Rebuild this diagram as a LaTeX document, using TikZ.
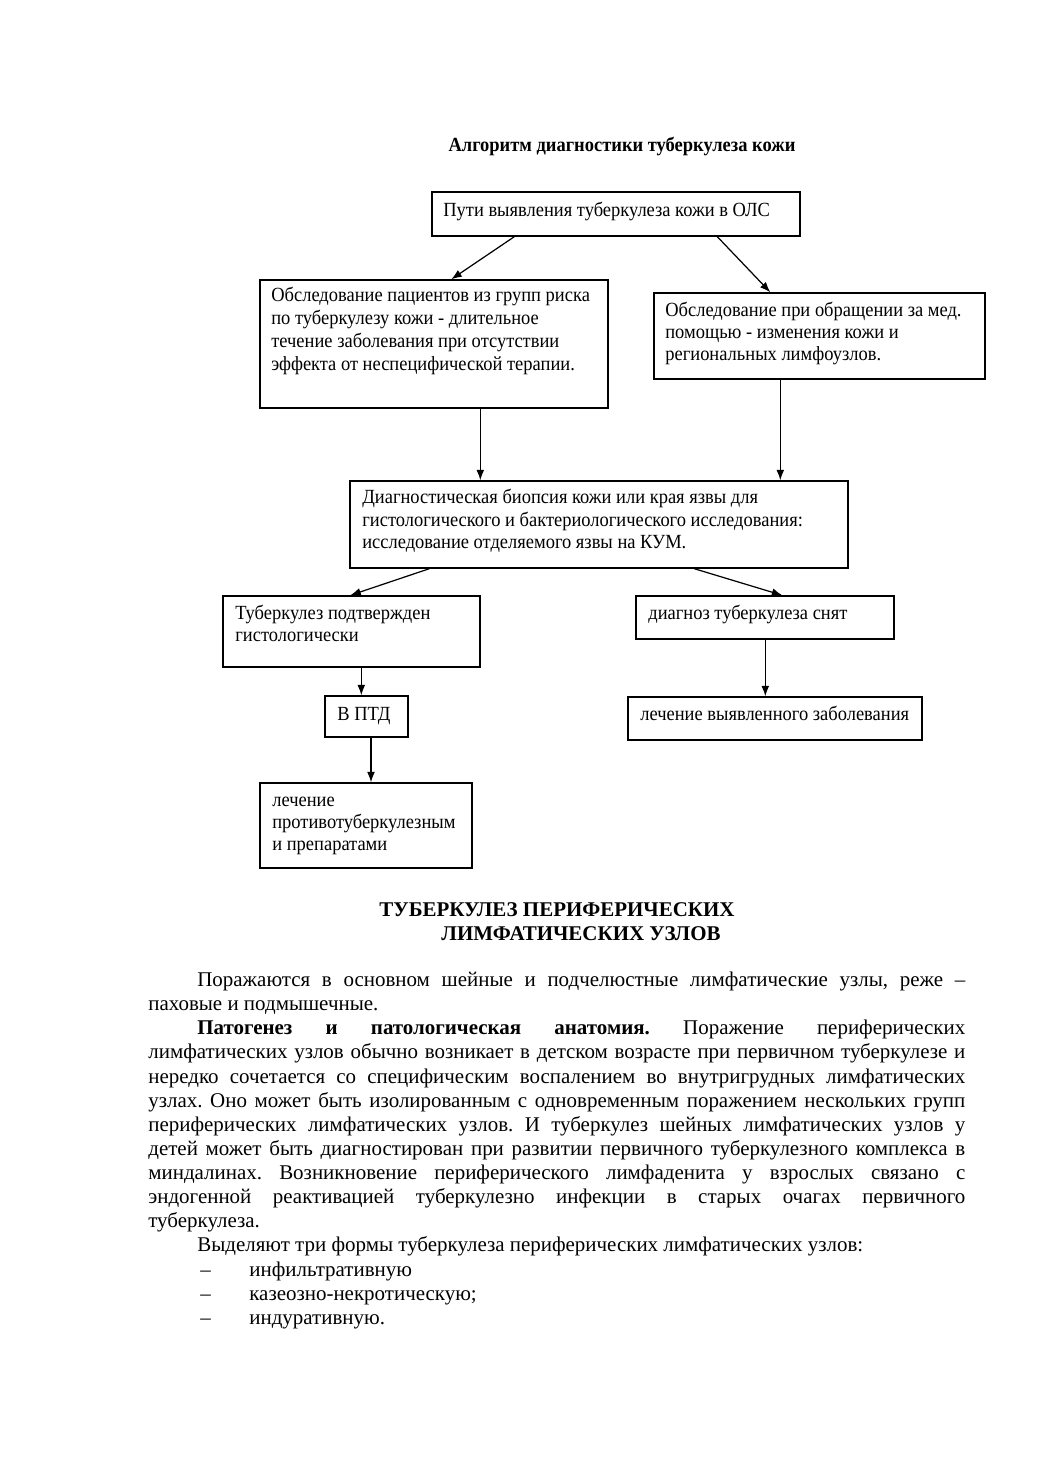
\documentclass[tikz,border=0pt]{standalone}
\usepackage{fontspec}
\setmainfont{Liberation Serif}
\newfontfamily\diagfont[FakeStretch=0.92]{Liberation Serif}
\usetikzlibrary{arrows.meta,calc}
\newlength\pxu
\setlength\pxu{0.5727pt}
\frenchspacing
\tikzset{
  box/.style={draw, line width=0.8pt, inner sep=0pt, minimum width=#1},
  dtxt/.style={anchor=base west, inner sep=0pt, font=\diagfont\fontsize{11.5}{13}\selectfont},
  btxt/.style={anchor=base west, inner sep=0pt, font=\fontsize{12}{13.8}\selectfont},
  arr/.style={line width=0.7pt, -{Latex[length=6pt,width=4.5pt]}},
}
\newcommand\jline[1]{\makebox[817\pxu][s]{#1}}
\newcommand\jlinei[1]{\makebox[768\pxu][s]{#1}}
\begin{document}
\begin{tikzpicture}[x=\pxu, y=-\pxu]
\useasboundingbox (0,0) rectangle (1039,1471);
% title
\node[anchor=base, inner sep=0pt, font=\diagfont\bfseries\fontsize{11.5}{13}\selectfont] (title) at (622,152) {Алгоритм диагностики туберкулеза кожи};
% boxes
\node[box=368\pxu, minimum height=44\pxu] (b1) at (616,214) {};
\node[box=348\pxu, minimum height=128\pxu] (b2) at (434,344) {};
\node[box=331\pxu, minimum height=86\pxu] (b3) at (819.5,336) {};
\node[box=498\pxu, minimum height=87\pxu] (b4) at (599,524.5) {};
\node[box=257\pxu, minimum height=71\pxu] (b5) at (351.5,631.5) {};
\node[box=258\pxu, minimum height=43\pxu] (b6) at (765,617.5) {};
\node[box=83\pxu, minimum height=41\pxu] (b7) at (366.5,716.5) {};
\node[box=212\pxu, minimum height=85\pxu] (b8) at (366,825.5) {};
\node[box=294\pxu, minimum height=43\pxu] (b9) at (775,718.5) {};
% box texts
\node[dtxt] (t1) at (443,217) {Пути выявления туберкулеза кожи в ОЛС};
\node[dtxt] (t2a) at (271,302) {Обследование пациентов из групп риска};
\node[dtxt] (t2b) at (271,325) {по туберкулезу кожи - длительное};
\node[dtxt] (t2c) at (271,348) {течение заболевания при отсутствии};
\node[dtxt] (t2d) at (271,371) {эффекта от неспецифической терапии.};
\node[dtxt] (t3a) at (665,317) {Обследование при обращении за мед.};
\node[dtxt] (t3b) at (665,339) {помощью - изменения кожи и};
\node[dtxt] (t3c) at (665,361) {региональных лимфоузлов.};
\node[dtxt] (t4a) at (362,503) {Диагностическая биопсия кожи или края язвы для};
\node[dtxt] (t4b) at (362,526) {гистологического и бактериологического исследования:};
\node[dtxt] (t4c) at (362,548) {исследование отделяемого язвы на КУМ.};
\node[dtxt] (t5a) at (235,619) {Туберкулез подтвержден};
\node[dtxt] (t5b) at (235,641) {гистологически};
\node[dtxt] (t6) at (648,619) {диагноз туберкулеза снят};
\node[dtxt] (t7) at (337,720) {В ПТД};
\node[dtxt] (t8a) at (272,806) {лечение};
\node[dtxt] (t8b) at (272,828) {противотуберкулезным};
\node[dtxt] (t8c) at (272,850) {и препаратами};
\node[dtxt] (t9) at (640,720) {лечение выявленного заболевания};
% connectors
\draw[arr] ([xshift=83\pxu]b1.south west) -- ([xshift=192\pxu]b2.north west);
\draw[arr] ([xshift=286\pxu]b1.south west) -- ([xshift=117\pxu]b3.north west);
\draw[arr] ([xshift=221\pxu]b2.south west) -- ([xshift=131\pxu]b4.north west);
\draw[arr] ([xshift=127\pxu]b3.south west) -- ([xshift=431\pxu]b4.north west);
\draw[arr] ([xshift=80\pxu]b4.south west) -- ([xshift=128\pxu]b5.north west);
\draw[arr] ([xshift=345\pxu]b4.south west) -- ([xshift=147\pxu]b6.north west);
\draw[arr] ([xshift=139\pxu]b5.south west) -- ([xshift=37\pxu]b7.north west);
\draw[arr] (b7.south -| 371,0) -- (b8.north -| 371,0);
\draw[arr] ([xshift=130\pxu]b6.south west) -- ([xshift=138\pxu]b9.north west);
% heading
\node[anchor=base, inner sep=0pt, font=\bfseries\fontsize{12}{13.8}\selectfont] (h1) at (557,916) {ТУБЕРКУЛЕЗ ПЕРИФЕРИЧЕСКИХ};
\node[anchor=base, inner sep=0pt, font=\bfseries\fontsize{12}{13.8}\selectfont] (h2) at (581,940) {ЛИМФАТИЧЕСКИХ УЗЛОВ};
% body
\node[btxt] (p1) at (197,986) {\jlinei{Поражаются в основном шейные и подчелюстные лимфатические узлы, реже –}};
\node[btxt] (p2) at (148,1010) {паховые и подмышечные.};
\node[btxt] (p3) at (197,1034) {\jlinei{\textbf{Патогенез и патологическая анатомия.} Поражение периферических}};
\node[btxt] (p4) at (148,1058) {\jline{лимфатических узлов обычно возникает в детском возрасте при первичном туберкулезе и}};
\node[btxt] (p5) at (148,1083) {\jline{нередко сочетается со специфическим воспалением во внутригрудных лимфатических}};
\node[btxt] (p6) at (148,1107) {\jline{узлах. Оно может быть изолированным с одновременным поражением нескольких групп}};
\node[btxt] (p7) at (148,1131) {\jline{периферических лимфатических узлов. И туберкулез шейных лимфатических узлов у}};
\node[btxt] (p8) at (148,1155) {\jline{детей может быть диагностирован при развитии первичного туберкулезного комплекса в}};
\node[btxt] (p9) at (148,1179) {\jline{миндалинах. Возникновение периферического лимфаденита у взрослых связано с}};
\node[btxt] (p10) at (148,1203) {\jline{эндогенной реактивацией туберкулезно инфекции в старых очагах первичного}};
\node[btxt] (p11) at (148,1227) {туберкулеза.};
\node[btxt] (p12) at (197,1251) {Выделяют три формы туберкулеза периферических лимфатических узлов:};
\node[btxt] (d1) at (200,1276) {–};
\node[btxt] (l1) at (249,1276) {инфильтративную};
\node[btxt] (d2) at (200,1300) {–};
\node[btxt] (l2) at (249,1300) {казеозно-некротическую;};
\node[btxt] (d3) at (200,1324) {–};
\node[btxt] (l3) at (249,1324) {индуративную.};
\end{tikzpicture}
\end{document}
